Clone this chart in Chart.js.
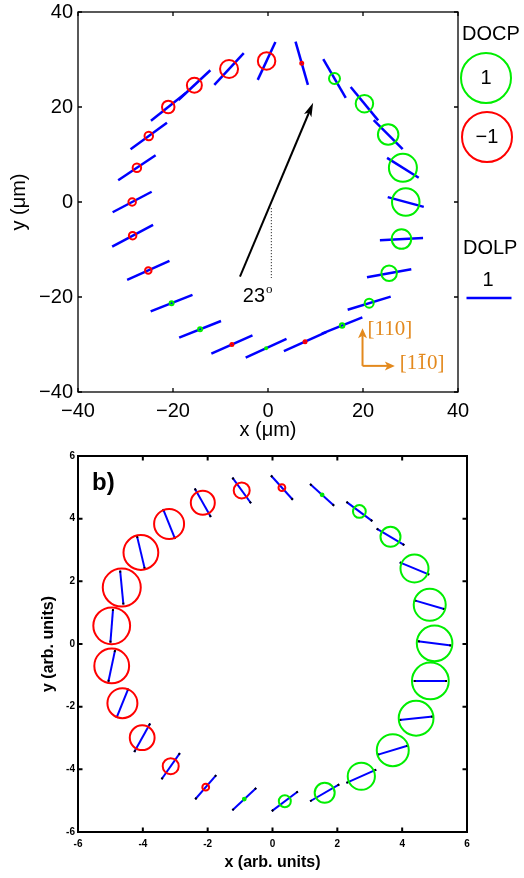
<!DOCTYPE html>
<html lang="en">
<head>
<meta charset="UTF-8">
<title>DOCP / DOLP maps</title>
<script src="https://cdn.jsdelivr.net/npm/chart.js"></script>
<style>
  html, body { margin: 0; padding: 0; background: #fff; overflow: hidden; }
  .panel { position: absolute; left: 0; width: 524px; }
  #top { top: 0; height: 450px; }
  #bot { top: 450px; height: 428px; }
</style>
</head>
<body>
<div class="panel" id="top"><canvas id="chartA"></canvas></div>
<div class="panel" id="bot"><canvas id="chartB"></canvas></div>
<script>
// panel a: measured spots, x/y in um, DOCP (circle), DOLP + angle (bar)
const aX    = [-28.6, -27.6, -25.1, -21.0, -15.5, -8.2, -0.3, 7.1, 14.0, 20.3, 25.3, 28.4, 29.0, 28.1, 25.5, 21.3, 15.6, 7.8, -0.4, -7.6, -14.3, -20.3, -25.2, -28.5];
const aY    = [0.0, 7.2, 13.9, 20.0, 24.6, 28.0, 29.7, 29.2, 26.0, 20.7, 14.2, 7.2, 0.0, -7.8, -15.0, -21.3, -26.0, -29.4, -30.8, -30.0, -26.8, -21.3, -14.4, -7.1];
const aDocp = [-0.15, -0.17, -0.17, -0.25, -0.30, -0.36, -0.35, -0.06, 0.22, 0.35, 0.41, 0.56, 0.55, 0.39, 0.31, 0.18, 0.09, -0.06, 0.04, -0.06, 0.08, 0.08, -0.13, -0.15];
const aDolp = [0.98, 1.0, 1.0, 0.98, 0.97, 0.96, 0.93, 1.0, 1.0, 0.96, 0.91, 0.83, 0.83, 0.96, 1.0, 1.0, 0.97, 1.03, 1.0, 1.0, 1.0, 1.0, 1.03, 1.03];
const aAng  = [27.7, 33.7, 36, 38.3, 43, 47, 65, 106, -60, -50.5, -45, -32, -15, 3, 10, 17, 21.8, 24, 24.8, 24, 21.6, 21.6, 24, 28];
const aTicks = [-40, -20, 0, 20, 40];

// panel b: model, arb. units
const bX    = [-0.95, -2.15, -3.19, -4.06, -4.65, -4.96, -4.96, -4.63, -4.02, -3.14, -2.06, -0.87, 0.38, 1.61, 2.74, 3.71, 4.43, 4.87, 5.00, 4.85, 4.38, 3.64, 2.68, 1.53, 0.29];
const bY    = [4.90, 4.51, 3.83, 2.92, 1.80, 0.58, -0.70, -1.89, -2.99, -3.90, -4.57, -4.95, -5.02, -4.75, -4.22, -3.39, -2.37, -1.18, 0.02, 1.25, 2.41, 3.42, 4.23, 4.76, 4.99];
const bDocp = [-0.40, -0.60, -0.75, -0.87, -0.95, -0.92, -0.87, -0.75, -0.62, -0.40, -0.17, 0.07, 0.30, 0.50, 0.68, 0.80, 0.87, 0.92, 0.89, 0.80, 0.70, 0.50, 0.32, 0.07, -0.17];
const bDolp = [0.93, 0.96, 0.94, 0.99, 1.0, 0.99, 0.95, 0.93, 0.96, 0.94, 0.94, 0.96, 0.96, 0.99, 0.96, 0.95, 0.99, 0.98, 0.99, 0.93, 0.94, 0.95, 0.95, 0.95, 0.96];
const bAng  = [-54, -60.5, -68, -76.7, -84.5, 85.5, 78, 68, 61, 55, 49, 43, 37, 30, 24, 16.7, 5.6, 0, -7.5, -16.5, -22.6, -31, -36.6, -42, -48];
const bTicks = [-6, -4, -2, 0, 2, 4, 6];

const RED = '#ff0000', GREEN = '#00ee00', BLUE = '#0000ff', ORANGE = '#e3891d';
const SANS = "'Liberation Sans', Arial, Helvetica, sans-serif";
const SERIF = "'Liberation Serif', 'Times New Roman', serif";

const fmtA = v => v < 0 ? '\u2212' + Math.abs(v) : String(v);
const fmtB = v => String(v);

// DOLP bars, drawn under the circles
function makePol(xs, ys, dolp, ang, pxPerUnit, width, tips) {
  return {
    id: 'pol',
    beforeDatasetsDraw(chart) {
      const {ctx} = chart, sx = chart.scales.x, sy = chart.scales.y;
      ctx.save();
      ctx.lineWidth = width;
      xs.forEach((v, i) => {
        const cx = sx.getPixelForValue(v), cy = sy.getPixelForValue(ys[i]);
        const h = dolp[i] * pxPerUnit / 2, r = ang[i] * Math.PI / 180;
        const c = Math.cos(r), s = Math.sin(r);
        ctx.strokeStyle = BLUE;
        ctx.beginPath();
        ctx.moveTo(cx - h * c, cy + h * s);
        ctx.lineTo(cx + h * c, cy - h * s);
        ctx.stroke();
        if (tips) {
          // small dark caps at both ends, as in the model plot
          ctx.strokeStyle = '#000';
          ctx.beginPath();
          ctx.moveTo(cx - h * c, cy + h * s); ctx.lineTo(cx - (h - 2) * c, cy + (h - 2) * s);
          ctx.moveTo(cx + h * c, cy - h * s); ctx.lineTo(cx + (h - 2) * c, cy - (h - 2) * s);
          ctx.stroke();
        }
      });
      ctx.restore();
    }
  };
}

// box with inward ticks on all four sides
function makeFrame(width, len) {
  return {
    id: 'frame',
    afterDraw(chart) {
      const {ctx, chartArea: a} = chart, sx = chart.scales.x, sy = chart.scales.y;
      ctx.save();
      ctx.strokeStyle = '#000';
      ctx.lineWidth = width;
      ctx.beginPath();
      sx.ticks.forEach(t => {
        const p = sx.getPixelForValue(t.value);
        ctx.moveTo(p, a.bottom); ctx.lineTo(p, a.bottom - len);
        ctx.moveTo(p, a.top); ctx.lineTo(p, a.top + len);
      });
      sy.ticks.forEach(t => {
        const p = sy.getPixelForValue(t.value);
        ctx.moveTo(a.left, p); ctx.lineTo(a.left + len, p);
        ctx.moveTo(a.right, p); ctx.lineTo(a.right - len, p);
      });
      ctx.stroke();
      ctx.strokeRect(a.left, a.top, a.right - a.left, a.bottom - a.top);
      ctx.restore();
    }
  };
}

function arrow(ctx, x0, y0, x1, y1, head, wid) {
  const t = Math.atan2(y1 - y0, x1 - x0), c = Math.cos(t), s = Math.sin(t);
  ctx.beginPath();
  ctx.moveTo(x0, y0);
  ctx.lineTo(x1 - head * 0.7 * c, y1 - head * 0.7 * s);
  ctx.stroke();
  ctx.beginPath();
  ctx.moveTo(x1, y1);
  ctx.lineTo(x1 - head * c + wid / 2 * s, y1 - head * s - wid / 2 * c);
  ctx.lineTo(x1 - head * 0.75 * c, y1 - head * 0.75 * s);
  ctx.lineTo(x1 - head * c - wid / 2 * s, y1 - head * s + wid / 2 * c);
  ctx.closePath();
  ctx.fill();
}

// annotations for panel a (data units)
const kArrow = [-5.9, -15.7, 9.5, 20.9];
const kDots = [0.7, -1.3, -16.0];
const kAngleText = [-5.3, -21.0];
const kCrystal = [19.9, -34.5, -26.6, 26.7];

const notesA = {
  id: 'notesA',
  afterDatasetsDraw(chart) {
    const {ctx, chartArea: a} = chart, sx = chart.scales.x, sy = chart.scales.y;
    const X = v => sx.getPixelForValue(v), Y = v => sy.getPixelForValue(v);
    ctx.save();
    // orientation arrow
    ctx.strokeStyle = '#000'; ctx.fillStyle = '#000'; ctx.lineWidth = 2;
    arrow(ctx, X(kArrow[0]), Y(kArrow[1]), X(kArrow[2]), Y(kArrow[3]), 14, 8);
    ctx.setLineDash([1, 2]); ctx.lineWidth = 1;
    ctx.beginPath(); ctx.moveTo(X(kDots[0]), Y(kDots[1])); ctx.lineTo(X(kDots[0]), Y(kDots[2])); ctx.stroke();
    ctx.setLineDash([]);
    ctx.font = '20px ' + SANS; ctx.textAlign = 'left'; ctx.textBaseline = 'alphabetic';
    const tx = X(kAngleText[0]), ty = Y(kAngleText[1]);
    ctx.fillText('23', tx, ty);
    const w = ctx.measureText('23').width;
    ctx.font = '13px ' + SERIF;
    ctx.fillText('o', tx + w + 1, ty - 9);
    // crystal axes
    ctx.strokeStyle = ORANGE; ctx.fillStyle = ORANGE; ctx.lineWidth = 2;
    arrow(ctx, X(kCrystal[0]), Y(kCrystal[1]), X(kCrystal[0]), Y(kCrystal[2]), 10, 9);
    arrow(ctx, X(kCrystal[0]), Y(kCrystal[1]), X(kCrystal[3]), Y(kCrystal[1]), 10, 9);
    ctx.font = '21px ' + SERIF; ctx.textBaseline = 'middle';
    ctx.fillText('[110]', X(kCrystal[0]) + 5, Y(kCrystal[2]) + 1);
    const lx = X(kCrystal[3]) + 5, ly = Y(kCrystal[1]) - 2;
    ctx.fillText('[110]', lx, ly);
    const w1 = ctx.measureText('[1').width, w2 = ctx.measureText('[11').width;
    ctx.lineWidth = 1.2;
    ctx.beginPath(); ctx.moveTo(lx + w1 + 1.5, ly - 9.5); ctx.lineTo(lx + w2 - 1.5, ly - 9.5); ctx.stroke();
    // legend
    const L = a.right, T = a.top;
    ctx.fillStyle = '#000'; ctx.font = '20px ' + SANS; ctx.textAlign = 'left';
    ctx.fillText('DOCP', L + 4, T + 22);
    ctx.fillText('DOLP', L + 5, T + 236);
    ctx.lineWidth = 2;
    ctx.strokeStyle = GREEN;
    ctx.beginPath(); ctx.arc(L + 28, T + 66, 1 * 25, 0, 2 * Math.PI); ctx.stroke();
    ctx.strokeStyle = RED;
    ctx.beginPath(); ctx.arc(L + 29, T + 125, 1 * 25, 0, 2 * Math.PI); ctx.stroke();
    ctx.textAlign = 'center';
    ctx.fillText('1', L + 28, T + 66);
    ctx.fillText('\u22121', L + 29, T + 125);
    ctx.fillText('1', L + 30, T + 268);
    ctx.strokeStyle = BLUE; ctx.lineWidth = 2.5;
    ctx.beginPath(); ctx.moveTo(L + 8.5, T + 286); ctx.lineTo(L + 8.5 + 45, T + 286); ctx.stroke();
    ctx.restore();
  }
};

const notesB = {
  id: 'notesB',
  afterDatasetsDraw(chart) {
    const {ctx, chartArea: a} = chart;
    ctx.save();
    ctx.fillStyle = '#000';
    ctx.font = 'bold 24px ' + SANS;
    ctx.textAlign = 'left'; ctx.textBaseline = 'alphabetic';
    ctx.fillText('b)', a.left + 14, a.top + 34);
    ctx.restore();
  }
};

function axis(ticks, lim, title, font, titleFont, tickPad, titlePad, fmt, fit) {
  return {
    type: 'linear', min: -lim, max: lim,
    afterBuildTicks: s => { s.ticks = ticks.map(v => ({value: v})); },
    afterFit: s => {
      fit(s);
      s.paddingTop = 0; s.paddingBottom = 0; s.paddingLeft = 0; s.paddingRight = 0;
    },
    grid: {display: false, drawTicks: false},
    border: {display: false},
    ticks: {color: '#000', font: font, padding: tickPad, maxRotation: 0, callback: fmt},
    title: {display: true, text: title, color: '#000', font: titleFont, padding: titlePad}
  };
}

function circles(xs, ys, docp, pxPerUnit) {
  return {
    data: xs.map((v, i) => ({x: v, y: ys[i]})),
    pointRadius: c => Math.abs(docp[c.dataIndex]) * pxPerUnit,
    pointBorderColor: c => docp[c.dataIndex] > 0 ? GREEN : RED,
    pointBackgroundColor: 'rgba(0,0,0,0)',
    pointBorderWidth: 2,
    clip: false
  };
}

const common = {
  responsive: true, maintainAspectRatio: false, animation: false, events: [],
  plugins: {legend: {display: false}, tooltip: {enabled: false}}
};

new Chart(document.getElementById('chartA'), {
  type: 'scatter',
  data: {datasets: [circles(aX, aY, aDocp, 25)]},
  options: Object.assign({}, common, {
    layout: {autoPadding: false, padding: {left: 0, top: 12, right: 66, bottom: 0}},
    scales: {
      x: axis(aTicks, 40, 'x (\u03bcm)', {family: SANS, size: 20}, {family: SANS, size: 20, lineHeight: 1.2},
        7, {top: 0, bottom: 8}, fmtA, s => { s.height = 58; }),
      y: axis(aTicks, 40, 'y (\u03bcm)', {family: SANS, size: 20}, {family: SANS, size: 20, lineHeight: 1.2},
        5, {top: 7, bottom: 0}, fmtA, s => { s.width = 78; })
    }
  }),
  plugins: [makePol(aX, aY, aDolp, aAng, 45, 2.5, false), makeFrame(1.3, 4), notesA]
});

new Chart(document.getElementById('chartB'), {
  type: 'scatter',
  data: {datasets: [circles(bX, bY, bDocp, 20)]},
  options: Object.assign({}, common, {
    layout: {autoPadding: false, padding: {left: 0, top: 6, right: 57, bottom: 0}},
    scales: {
      x: axis(bTicks, 6, 'x (arb. units)', {family: SANS, size: 10, weight: 'bold'}, {family: SANS, size: 16, weight: 'bold', lineHeight: 1.2},
        6, {top: 0, bottom: 6}, fmtB, s => { s.height = 46; }),
      y: axis(bTicks, 6, 'y (arb. units)', {family: SANS, size: 10, weight: 'bold'}, {family: SANS, size: 16, weight: 'bold', lineHeight: 1.2},
        3, {top: 39, bottom: 0}, fmtB, s => { s.width = 78; })
    }
  }),
  plugins: [makePol(bX, bY, bDolp, bAng, 34, 2, true), makeFrame(2, 4.5), notesB]
});
</script>
</body>
</html>
